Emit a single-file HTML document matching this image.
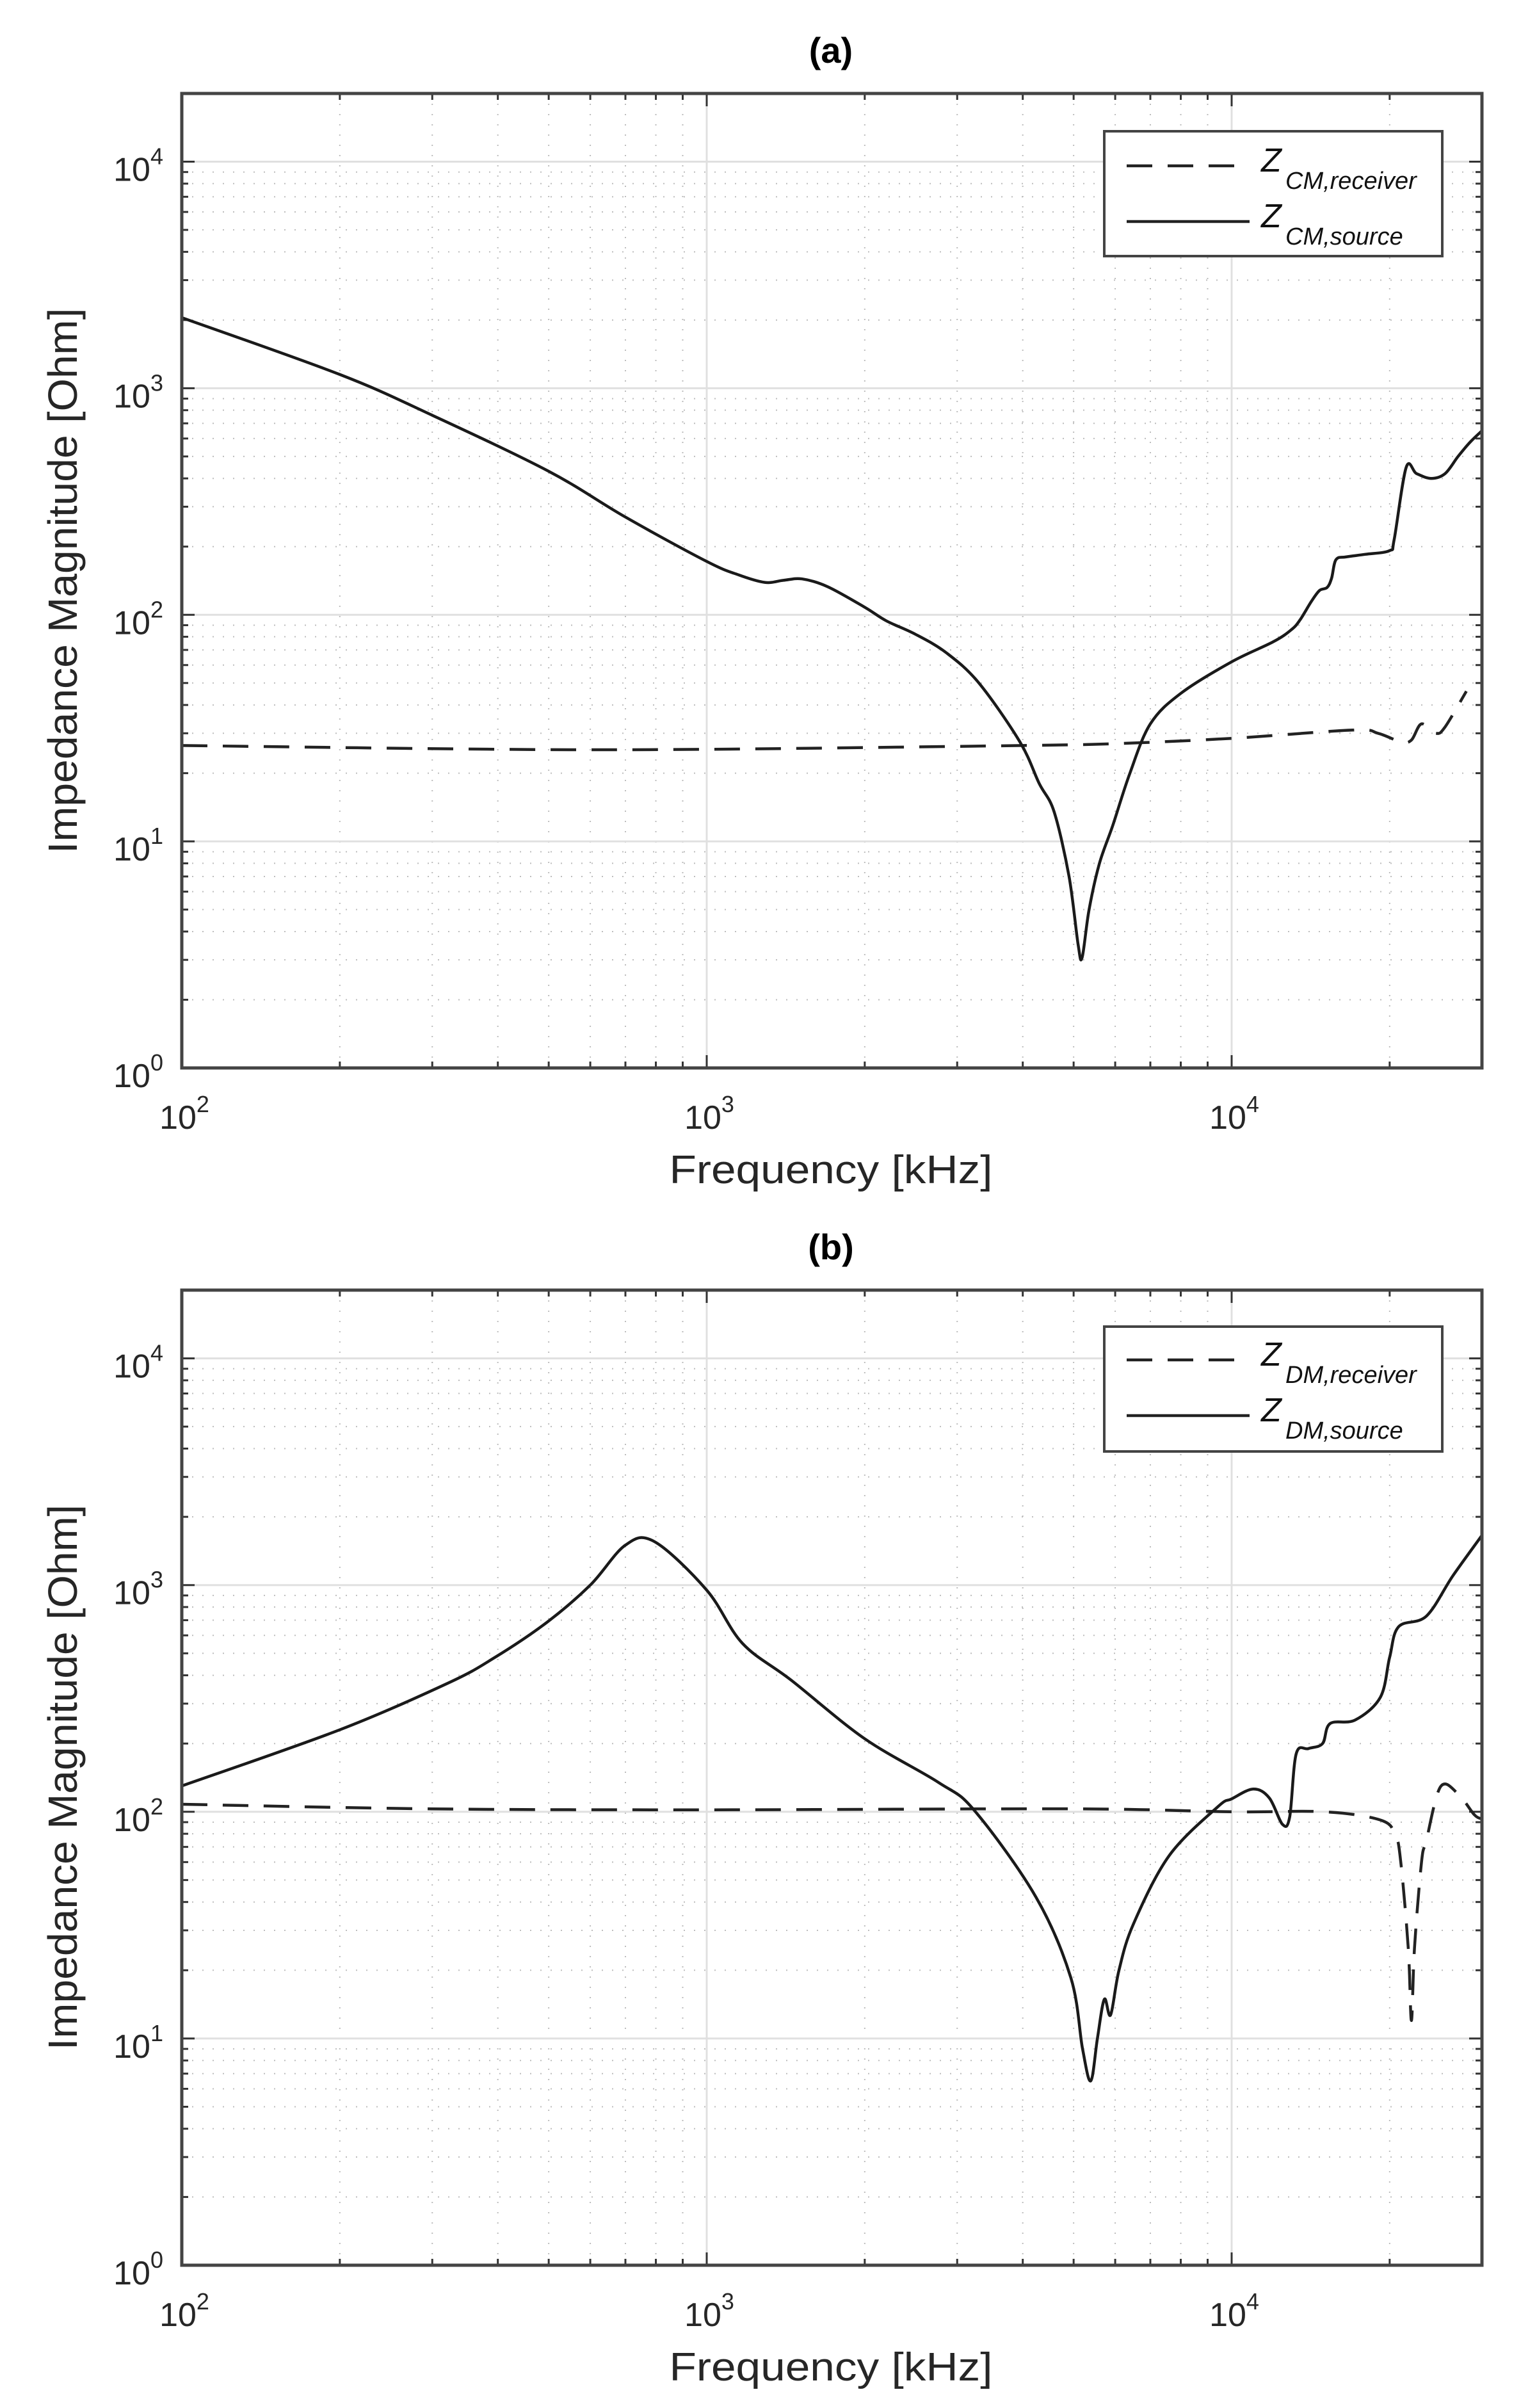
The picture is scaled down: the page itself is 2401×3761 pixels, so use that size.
<!DOCTYPE html>
<html><head><meta charset="utf-8"><style>
html,body{margin:0;padding:0;background:#fff;}
svg{display:block;font-family:"Liberation Sans",Arial,sans-serif;}
</style></head><body>
<svg id="fig" width="2401" height="3761" viewBox="0 0 2401 3761" xmlns="http://www.w3.org/2000/svg">
<rect x="0" y="0" width="2401" height="3761" fill="#fff"/>
</svg>
<script>
// ---- data ----
const cmSourceFreq = [100,200,300,500,700,1000,1150,1290,1400,1520,1700,2000,2200,2500,2860,3300,3950,4300,4590,4900,5100,5190,5350,5600,5940,6400,7000,8000,10000,12000,13000,13500,14200,14700,15200,15500,15800,16500,18000,20000,20400,21500,22500,24000,25500,27000,28500,30000];
const cmSourceVal  = [2050,1150,760,430,270,172,150,139,142,144,133,108,94,82,68,50,27.5,18,13.5,7,3.5,3.07,5,8,11.8,20,33,45,62,76,86,95,115,128,132,145,175,180,185,192,215,447,420,400,420,500,580,650];
const cmRecvFreq = [100,400,1000,4000,6000,10000,17000,19000,21000,22000,23000,24500,25500,28000];
const cmRecvVal  = [26.5,25.5,25.5,26.5,27,28.5,31,30,27.5,28,33,30,32,46];
const dmSourceFreq = [100,200,322,395,496,600,700,795,1000,1170,1450,2000,2760,3240,4240,4940,5200,5390,5550,5720,5880,6100,6500,7600,9400,10000,11000,11800,12500,12900,13270,14000,14900,15400,17200,19200,20000,20800,23500,26400,30000];
const dmSourceVal  = [130,230,370,480,685,1000,1500,1555,950,553,380,210,135,101,42,18.5,9,6.5,10,14.9,12.7,20,32,64,105,114,126,115,88,95,180,190,200,245,254,320,480,655,730,1100,1660];
const dmRecvFreq = [100,300,1000,5000,10000,15000,19200,20500,21000,21700,22000,22300,23000,23500,25000,27000,29000,30000];
const dmRecvVal  = [108,103,102,103,100,100,92,79,60,25,12,25,60,75,129,120,97,93];
const yTickExp = [0,1,2,3,4];
const xTickExp = [2,3,4];

const NS = "http://www.w3.org/2000/svg";
const svg = document.getElementById('fig');
const X0 = 284, X1 = 2315, XMIN = 2, XDEC = 820;
function mk(tag, attrs, parent){ const e=document.createElementNS(NS,tag); for(const k in attrs) e.setAttribute(k,attrs[k]); (parent||svg).appendChild(e); return e; }

function smoothPath(pts){
  let d='M'+pts[0][0].toFixed(1)+','+pts[0][1].toFixed(1);
  for(let i=0;i<pts.length-1;i++){
    const p0=pts[Math.max(0,i-1)], p1=pts[i], p2=pts[i+1], p3=pts[Math.min(pts.length-1,i+2)];
    const c1=[p1[0]+(p2[0]-p0[0])/6, p1[1]+(p2[1]-p0[1])/6];
    const c2=[p2[0]-(p3[0]-p1[0])/6, p2[1]-(p3[1]-p1[1])/6];
    d+=' C'+c1[0].toFixed(1)+','+c1[1].toFixed(1)+' '+c2[0].toFixed(1)+','+c2[1].toFixed(1)+' '+p2[0].toFixed(1)+','+p2[1].toFixed(1);
  }
  return d;
}

function panel(top, bottom, title, letter, sFreq, sVal, rFreq, rVal, subA, subB, legTop, legLine1, legLine2, ylabelCenter){
  const g = mk('g',{});
  
  
  const yDec = (bottom - top) / 4.301;
  const xs = f => X0 + (Math.log10(f) - XMIN) * XDEC;
  const ys = v => bottom - Math.log10(v) * yDec;
  const grid = mk('g',{},g);
  
  
  for(let d=2; d<=4; d++) for(let m=2;m<=9;m++){ const f=m*Math.pow(10,d); if(f>30000) continue; const x=xs(f);
    mk('line',{x1:x,x2:x,y1:top,y2:bottom,stroke:'#bdbdbd','stroke-width':2,'stroke-dasharray':'2 14'},grid);}
  for(let d=0; d<=4; d++) for(let m=2;m<=9;m++){ const v=m*Math.pow(10,d); if(v>20000) continue; const y=ys(v);
    mk('line',{x1:X0,x2:X1,y1:y,y2:y,stroke:'#bdbdbd','stroke-width':2,'stroke-dasharray':'2 14'},grid);}
  xTickExp.forEach(e=>{ const x=xs(Math.pow(10,e)); mk('line',{x1:x,x2:x,y1:top,y2:bottom,stroke:'#e0e0e0','stroke-width':3},grid);});
  yTickExp.forEach(e=>{ const y=ys(Math.pow(10,e)); mk('line',{x1:X0,x2:X1,y1:y,y2:y,stroke:'#e0e0e0','stroke-width':3},grid);});
  for(let d=2; d<=4; d++) for(let m=1;m<=9;m++){ const f=m*Math.pow(10,d); if(f>30000) continue; const x=xs(f); const L=m===1?20:10;
    mk('line',{x1:x,x2:x,y1:bottom,y2:bottom-L,stroke:'#333','stroke-width':3},g);
    mk('line',{x1:x,x2:x,y1:top,y2:top+L,stroke:'#333','stroke-width':3},g);}
  for(let d=0; d<=4; d++) for(let m=1;m<=9;m++){ const v=m*Math.pow(10,d); if(v>20000) continue; const y=ys(v); const L=m===1?20:10;
    mk('line',{x1:X0,x2:X0+L,y1:y,y2:y,stroke:'#333','stroke-width':3},g);
    mk('line',{x1:X1,x2:X1-L,y1:y,y2:y,stroke:'#333','stroke-width':3},g);}
  const ptsOf=(F,V)=>F.map((f,i)=>[xs(f),ys(V[i])]);
  const clipId='clip'+letter;
  const cp=mk('clipPath',{id:clipId},g); mk('rect',{x:X0,y:top,width:X1-X0,height:bottom-top},cp);
  const rl=mk('path',{d:smoothPath(ptsOf(rFreq,rVal)),fill:'none',stroke:'#222','stroke-width':4.5,'stroke-dasharray':'40 24','clip-path':'url(#'+clipId+')','stroke-linejoin':'round'},g);
  
  
  const sl=mk('path',{d:smoothPath(ptsOf(sFreq,sVal)),fill:'none',stroke:'#1a1a1a','stroke-width':4.5,'clip-path':'url(#'+clipId+')','stroke-linejoin':'round'},g);
  
  
  const box=mk('rect',{x:X0,y:top,width:X1-X0,height:bottom-top,fill:'none',stroke:'#444','stroke-width':5},g);
  
  
  yTickExp.forEach(e=>{ const y=ys(Math.pow(10,e));
    const t=mk('text',{x:255,y:y+30,'text-anchor':'end','font-size':52,fill:'#262626'},g);
    
    
    t.appendChild(document.createTextNode('10'));
    const s=mk('tspan',{dy:-26,'font-size':36},t); s.textContent=String(e);
  });
  xTickExp.forEach(e=>{ const x=xs(Math.pow(10,e));
    const t=mk('text',{x:x+4,y:bottom+95,'text-anchor':'middle','font-size':52,fill:'#262626'},g);
    
    
    t.appendChild(document.createTextNode('10'));
    const s=mk('tspan',{dy:-26,'font-size':36},t); s.textContent=String(e);
  });
  const xt=mk('text',{x:1298,y:bottom+180,'text-anchor':'middle','font-size':62,fill:'#262626',textLength:505,lengthAdjust:'spacingAndGlyphs'},g);
  
  
  xt.textContent='Frequency [kHz]';
  const yt=mk('text',{x:0,y:0,'text-anchor':'middle','font-size':64,fill:'#262626',textLength:852,lengthAdjust:'spacingAndGlyphs',transform:'translate(120,'+ylabelCenter+') rotate(-90)'},g);
  
  
  yt.textContent='Impedance Magnitude [Ohm]';
  const tt=mk('text',{x:1298,y:top-48,'text-anchor':'middle','font-size':56,'font-weight':'bold',fill:'#000'},g);
  
  
  tt.textContent=title;
  const lg=mk('g',{},g);
  
  
  mk('rect',{x:1725,y:legTop,width:528,height:legLine2-legLine1+108,fill:'#fff',stroke:'#444','stroke-width':4},lg);
  const entries=[[legLine1,'40 24',subA],[legLine2,'',subB]];
  entries.forEach(([ly,dash,sub])=>{
    const le=mk('g',{},lg);
    
    
    const a={x1:1760,x2:1952,y1:ly,y2:ly,stroke:'#222','stroke-width':4.5}; if(dash) a['stroke-dasharray']=dash;
    mk('line',a,le);
    const z=mk('text',{x:1970,y:ly+9,'font-size':52,'font-style':'italic',fill:'#111'},le); z.textContent='Z';
    const s=mk('text',{x:2008,y:ly+36,'font-size':38,'font-style':'italic',fill:'#111'},le); s.textContent=sub;
  });
}
panel(146,1668,'(a)','a',cmSourceFreq,cmSourceVal,cmRecvFreq,cmRecvVal,'CM,receiver','CM,source',205,259,346,907);
panel(2015,3538,'(b)','b',dmSourceFreq,dmSourceVal,dmRecvFreq,dmRecvVal,'DM,receiver','DM,source',2072,2124,2211,2776);
</script>
</body></html>
